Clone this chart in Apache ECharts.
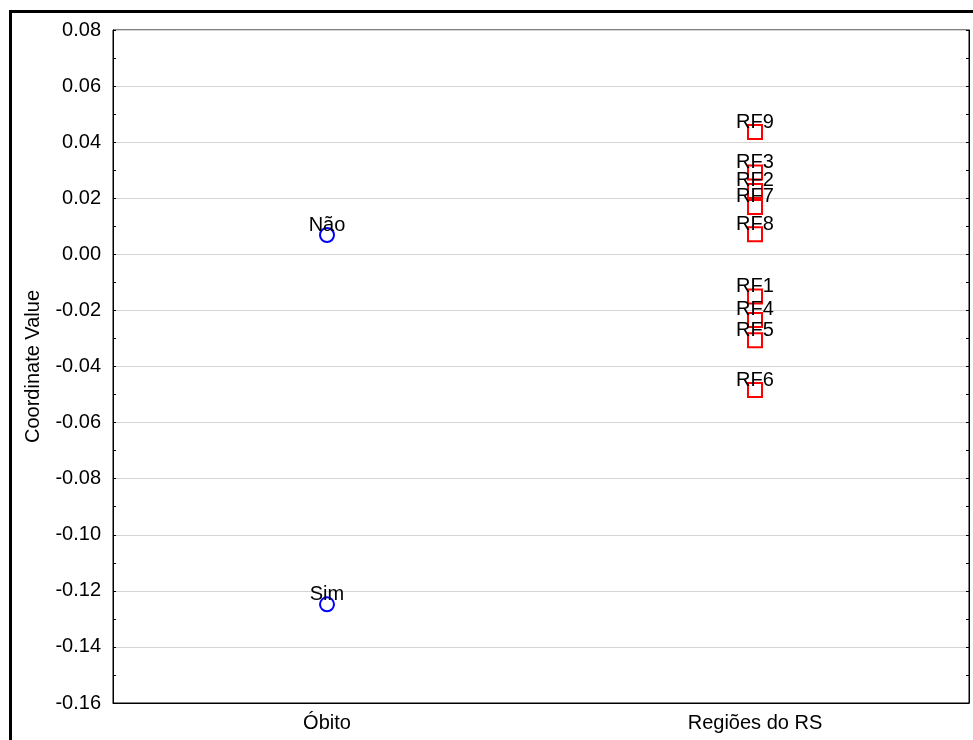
<!DOCTYPE html>
<html>
<head>
<meta charset="utf-8">
<script src="https://cdn.jsdelivr.net/npm/echarts@6/dist/echarts.min.js"></script>
<style>
  html, body { margin: 0; padding: 0; background: #fff; }
  #chart { width: 973px; height: 740px; }
</style>
</head>
<body>
<div id="chart"></div>
<script>
// Categories on the x axis
const categories = ['Óbito', 'Regiões do RS']

// Óbito points
const obitoNames = ['Não', 'Sim']
const obitoValues = [0.0069, -0.1248]

// Regiões do RS points
const regiaoNames = ['RF1', 'RF2', 'RF3', 'RF4', 'RF5', 'RF6', 'RF7', 'RF8', 'RF9']
const regiaoValues = [-0.0150, 0.0226, 0.0292, -0.0234, -0.0306, -0.0484, 0.0169, 0.0072, 0.0436]

// Y axis range
const yMin = -0.16
const yMax = 0.08
const yStep = 0.02

const font = 'Arial, "Liberation Sans", sans-serif'

const chart = echarts.init(document.getElementById('chart'))

const pointLabel = (names) => ({
  show: true,
  position: 'top',
  distance: -8,
  color: '#000',
  textBorderWidth: 0,
  fontSize: 20,
  fontFamily: font,
  formatter: (p) => names[p.dataIndex],
})

const option = {
  animation: false,
  backgroundColor: '#fff',
  graphic: [
    {
      type: 'rect',
      z: -1,
      shape: { x: 10.5, y: 11.5, width: 1000, height: 1000 },
      style: { fill: 'none', stroke: '#000', lineWidth: 3 },
    },
  ],
  grid: {
    left: 113,
    right: 4,
    top: 30,
    bottom: 37,
    show: true,
    borderColor: '#000',
    borderWidth: 1,
  },
  xAxis: {
    type: 'category',
    data: categories,
    boundaryGap: true,
    axisLine: { onZero: false, lineStyle: { color: '#000', width: 1 } },
    axisTick: { show: false },
    axisLabel: {
      color: '#000',
      fontSize: 20,
      fontFamily: font,
      margin: 10,
    },
    splitLine: { show: false },
  },
  yAxis: [
    {
      type: 'value',
      min: yMin,
      max: yMax,
      interval: yStep,
      name: 'Coordinate Value',
      nameLocation: 'middle',
      nameGap: 70,
      nameTextStyle: { color: '#000', fontSize: 20, fontFamily: font },
      axisLine: { show: true, lineStyle: { color: '#000', width: 1 } },
      axisTick: { show: true, inside: true, length: 3, lineStyle: { color: '#000' } },
      minorTick: { show: true, splitNumber: 2, length: 3, lineStyle: { color: '#000' } },
      axisLabel: {
        color: '#000',
        fontSize: 20,
        fontFamily: font,
        margin: 12,
        formatter: (v) => v.toFixed(2),
      },
      splitLine: { show: true, lineStyle: { color: '#d4d4d4', width: 1 } },
    },
    {
      type: 'value',
      position: 'right',
      min: yMin,
      max: yMax,
      interval: yStep,
      axisLine: { show: true, lineStyle: { color: '#000', width: 1 } },
      axisTick: { show: true, inside: true, length: 3, lineStyle: { color: '#000' } },
      minorTick: { show: true, splitNumber: 2, length: 3, lineStyle: { color: '#000' } },
      axisLabel: { show: false },
      splitLine: { show: false },
    },
  ],
  series: [
    {
      name: 'Óbito',
      type: 'scatter',
      symbol: 'circle',
      symbolSize: 14,
      itemStyle: { opacity: 1, color: 'rgba(0,0,0,0)', borderColor: '#0000ff', borderWidth: 2 },
      label: pointLabel(obitoNames),
      data: obitoValues.map((v) => [categories[0], v]),
    },
    {
      name: 'Regiões do RS',
      type: 'scatter',
      symbol: 'rect',
      symbolSize: 14,
      itemStyle: { opacity: 1, color: 'rgba(0,0,0,0)', borderColor: '#ff0000', borderWidth: 2 },
      label: pointLabel(regiaoNames),
      data: regiaoValues.map((v) => [categories[1], v]),
    },
  ],
}

chart.setOption(option)
</script>
</body>
</html>
